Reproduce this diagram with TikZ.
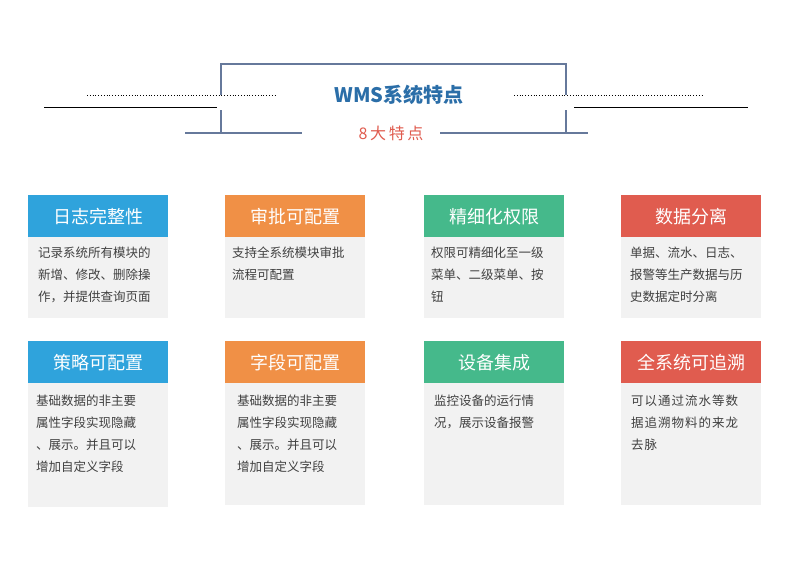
\documentclass[tikz,border=0pt]{standalone}
\usepackage{fontspec}
\setmainfont{Noto Sans CJK SC}
\begin{document}
\begin{tikzpicture}[x=1pt,y=-1pt,
 hdr/.style={fill=#1,minimum width=140pt,minimum height=42pt,inner sep=0pt,text=white,font=\fontsize{18}{20}\selectfont,anchor=north west},
 body/.style={fill=gray!10,minimum width=140pt,inner sep=0pt,anchor=north west},
 txt/.style={anchor=north west,align=left,text=black!75,font=\fontsize{12.5}{22}\selectfont,inner sep=0pt},
 frame/.style={draw=black!30!blue!30!gray,line width=2.5pt}]
\definecolor{cb}{HTML}{2FA3DC}\definecolor{co}{HTML}{F09046}
\definecolor{cg}{HTML}{45B98B}\definecolor{cr}{HTML}{E05C4F}
\definecolor{fr}{HTML}{66799B}
\useasboundingbox (0,0) rectangle (790,574);
\fill[white] (0,0) rectangle (790,574);
% header
\draw[draw=fr,line width=2.5pt] (221,95) -- (221,64) -- (566,64) -- (566,95);
\draw[draw=fr,line width=2.5pt] (221,110) -- (221,133);
\draw[draw=fr,line width=2.5pt] (566,110) -- (566,133);
\draw[draw=fr,line width=2.5pt] (185,133) -- (302,133);
\draw[draw=fr,line width=2.5pt] (440,133) -- (588,133);
\draw[dotted,line width=0.8pt] (87,95) -- (277,95);
\draw[dotted,line width=0.8pt] (514,95) -- (703,95);
\draw[line width=1pt] (44,107) -- (217,107);
\draw[line width=1pt] (574,107) -- (748,107);
\node[font=\fontsize{20}{22}\selectfont\bfseries,text=black!20!blue!60!cyan!70] (title) at (399,95) {\color[HTML]{2B6EA8}WMS系统特点};
\node[font=\fontsize{16}{18}\selectfont,text=cr] (sub) at (391,133) {8\,大\,特\,点};
% row 1
\node[body,minimum height=81pt] (b1) at (28,237) {};
\node[hdr=cb] (h1) at (28,195) {日志完整性};
\node[txt] (t1) at (38,247) {记录系统所有模块的\\新增、修改、删除操\\作，并提供查询页面};
\node[body,minimum height=81pt] (b2) at (225,237) {};
\node[hdr=co] (h2) at (225,195) {审批可配置};
\node[txt] (t2) at (232,247) {支持全系统模块审批\\流程可配置};
\node[body,minimum height=81pt] (b3) at (424,237) {};
\node[hdr=cg] (h3) at (424,195) {精细化权限};
\node[txt] (t3) at (431,247) {权限可精细化至一级\\菜单、二级菜单、按\\钮};
\node[body,minimum height=81pt] (b4) at (621,237) {};
\node[hdr=cr] (h4) at (621,195) {数据分离};
\node[txt] (t4) at (630,247) {单据、流水、日志、\\报警等生产数据与历\\史数据定时分离};
% row 2
\node[body,minimum height=124pt] (b5) at (28,383) {};
\node[hdr=cb] (h5) at (28,341) {策略可配置};
\node[txt] (t5) at (36,395) {基础数据的非主要\\属性字段实现隐藏\\、展示。并且可以\\增加自定义字段};
\node[body,minimum height=122pt] (b6) at (225,383) {};
\node[hdr=co] (h6) at (225,341) {字段可配置};
\node[txt] (t6) at (237,395) {基础数据的非主要\\属性字段实现隐藏\\、展示。并且可以\\增加自定义字段};
\node[body,minimum height=122pt] (b7) at (424,383) {};
\node[hdr=cg] (h7) at (424,341) {设备集成};
\node[txt] (t7) at (434,395) {监控设备的运行情\\况，展示设备报警};
\node[body,minimum height=122pt] (b8) at (621,383) {};
\node[hdr=cr] (h8) at (621,341) {全系统可追溯};
\node[txt,font=\fontsize{12.5}{22}\selectfont\addfontfeatures{LetterSpace=8}] (t8) at (631,395) {可以通过流水等数\\据追溯物料的来龙\\去脉};
\end{tikzpicture}
\end{document}
